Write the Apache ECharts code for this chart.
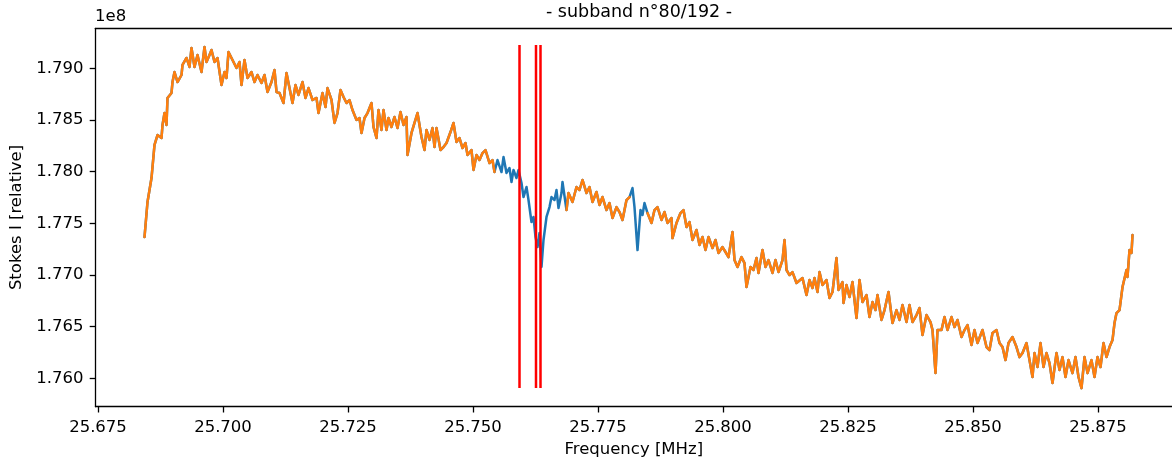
<!DOCTYPE html>
<html>
<head>
<meta charset="utf-8">
<script src="https://cdn.jsdelivr.net/npm/echarts@6/dist/echarts.min.js"></script>
<style>
html,body{margin:0;padding:0;background:#fff;}
#chart{width:1172px;height:459px;}
</style>
</head>
<body>
<div id="chart"></div>
<script>
// Frequency channels [MHz]
const freqs = [
25.6843,25.6849,25.6857,25.6863,25.6869,25.6877,25.6879,25.6883,25.6887,25.6889,
25.6897,25.6899,25.6903,25.6909,25.6917,25.6919,25.6927,25.6933,25.6937,25.6943,
25.6949,25.6957,25.6963,25.6967,25.6973,25.6977,25.6983,25.6989,25.6997,25.7003,
25.7007,25.7011,25.7019,25.7027,25.7033,25.7037,25.7043,25.7049,25.7057,25.7063,
25.7069,25.7077,25.7083,25.7089,25.7097,25.7103,25.7107,25.7113,25.7121,25.7127,
25.7133,25.7139,25.7145,25.7151,25.7159,25.7165,25.7171,25.7179,25.7187,25.7191,
25.7199,25.7205,25.7209,25.7217,25.7223,25.7229,25.7235,25.7241,25.7247,25.7253,
25.7259,25.7267,25.7273,25.7277,25.7283,25.7289,25.7297,25.7301,25.7307,25.7311,
25.7317,25.7321,25.7327,25.7331,25.7337,25.7343,25.7349,25.7355,25.7361,25.7367,
25.7369,25.7377,25.7383,25.7389,25.7397,25.7403,25.7407,25.7413,25.7419,25.7423,
25.7427,25.7435,25.7441,25.7447,25.7455,25.7461,25.7467,25.7473,25.7479,25.7485,
25.7489,25.7497,25.7501,25.7507,25.7513,25.7519,25.7525,25.7533,25.7539,25.7543,
25.7549,25.7557,25.7561,25.7567,25.7573,25.7577,25.7581,25.7587,25.7591,25.7597,
25.7601,25.7607,25.7611,25.7617,25.7621,25.7625,25.7629,25.7633,25.7637,25.7641,
25.7647,25.7653,25.7657,25.7663,25.7667,25.7671,25.7677,25.7679,25.7687,25.7691,
25.7699,25.7707,25.7713,25.7719,25.7727,25.7733,25.7739,25.7747,25.7753,25.7759,
25.7767,25.7773,25.7779,25.7787,25.7793,25.7799,25.7807,25.7813,25.7819,25.7823,
25.7829,25.7835,25.7839,25.7843,25.7849,25.7857,25.7863,25.7869,25.7877,25.7883,
25.7889,25.7897,25.7899,25.7907,25.7915,25.7921,25.7927,25.7933,25.7939,25.7947,
25.7953,25.7959,25.7965,25.7971,25.7979,25.7985,25.7991,25.7999,25.8005,25.8011,
25.8019,25.8023,25.8029,25.8037,25.8043,25.8047,25.8055,25.8061,25.8067,25.8071,
25.8079,25.8085,25.8091,25.8099,25.8105,25.8111,25.8119,25.8123,25.8127,25.8133,
25.8139,25.8147,25.8159,25.8167,25.8173,25.8179,25.8183,25.8189,25.8193,25.8199,
25.8207,25.8213,25.8219,25.8227,25.8231,25.8239,25.8241,25.8247,25.8253,25.8259,
25.8267,25.8273,25.8279,25.8287,25.8293,25.8299,25.8305,25.8309,25.8317,25.8323,
25.8331,25.8339,25.8347,25.8353,25.8359,25.8367,25.8373,25.8379,25.8387,25.8393,
25.8399,25.8407,25.8415,25.8419,25.8425,25.8429,25.8437,25.8443,25.8449,25.8457,
25.8463,25.8469,25.8477,25.8483,25.8489,25.8497,25.8503,25.8509,25.8519,25.8527,
25.8533,25.8539,25.8547,25.8553,25.8559,25.8565,25.8571,25.8579,25.8587,25.8593,
25.8599,25.8607,25.8613,25.8619,25.8623,25.8629,25.8635,25.8641,25.8647,25.8653,
25.8659,25.8667,25.8673,25.8679,25.8685,25.8691,25.8699,25.8705,25.8711,25.8717,
25.8723,25.8729,25.8737,25.8743,25.8749,25.8755,25.8761,25.8767,25.8773,25.8779,
25.8783,25.8787,25.8793,25.8799,25.8807,25.8809,25.8813,25.8817,25.8819
];
// Stokes I [relative], in units of 1e8
const stokes = [
1.77367,1.77706,1.77938,1.78258,1.78354,1.78325,1.78451,1.78567,1.78451,1.78713,
1.78761,1.78867,1.78964,1.78867,1.78935,1.79032,1.79100,1.79013,1.79197,1.79013,
1.79129,1.78964,1.79206,1.79061,1.79129,1.79177,1.79061,1.79100,1.78838,1.78964,
1.78906,1.79158,1.79080,1.79003,1.79061,1.78838,1.79080,1.78906,1.78964,1.78867,
1.78935,1.78858,1.78935,1.78771,1.78867,1.78984,1.78771,1.78761,1.78664,1.78955,
1.78809,1.78664,1.78838,1.78742,1.78867,1.78713,1.78809,1.78693,1.78713,1.78567,
1.78761,1.78625,1.78809,1.78693,1.78471,1.78567,1.78790,1.78722,1.78664,1.78693,
1.78596,1.78500,1.78519,1.78374,1.78519,1.78567,1.78664,1.78432,1.78325,1.78596,
1.78403,1.78596,1.78403,1.78519,1.78432,1.78529,1.78422,1.78577,1.78451,1.78529,
1.78161,1.78374,1.78471,1.78567,1.78335,1.78209,1.78403,1.78306,1.78422,1.78238,
1.78422,1.78209,1.78238,1.78277,1.78383,1.78471,1.78287,1.78325,1.78228,1.78277,
1.78161,1.78209,1.78016,1.78161,1.78112,1.78180,1.78209,1.78083,1.78112,1.77996,
1.78112,1.77996,1.78141,1.77987,1.78035,1.77899,1.78016,1.77938,1.78016,1.77890,
1.77754,1.77851,1.77725,1.77512,1.77561,1.77367,1.77270,1.77406,1.77077,1.77338,
1.77561,1.77657,1.77754,1.77725,1.77822,1.77648,1.77793,1.77900,1.77628,1.77793,
1.77706,1.77851,1.77822,1.77919,1.77793,1.77851,1.77706,1.77803,1.77677,1.77754,
1.77628,1.77696,1.77551,1.77657,1.77609,1.77532,1.77725,1.77754,1.77841,1.77657,
1.77241,1.77628,1.77580,1.77696,1.77599,1.77503,1.77628,1.77657,1.77532,1.77609,
1.77503,1.77551,1.77357,1.77503,1.77599,1.77628,1.77464,1.77512,1.77338,1.77435,
1.77290,1.77367,1.77241,1.77367,1.77260,1.77338,1.77212,1.77270,1.77222,1.77173,
1.77415,1.77144,1.77077,1.77173,1.77115,1.76883,1.77077,1.77048,1.77164,1.77019,
1.77241,1.77077,1.77144,1.77019,1.77144,1.77028,1.77144,1.77338,1.77048,1.76999,
1.77028,1.76922,1.76970,1.76806,1.76951,1.76873,1.76970,1.76835,1.77028,1.76902,
1.76951,1.76777,1.76835,1.77164,1.76854,1.76931,1.76728,1.76902,1.76786,1.76931,
1.76583,1.76951,1.76738,1.76806,1.76593,1.76738,1.76660,1.76806,1.76564,1.76660,
1.76835,1.76534,1.76660,1.76564,1.76709,1.76544,1.76709,1.76544,1.76612,1.76680,
1.76418,1.76612,1.76544,1.76467,1.76050,1.76467,1.76467,1.76593,1.76467,1.76593,
1.76496,1.76564,1.76399,1.76467,1.76515,1.76322,1.76467,1.76341,1.76467,1.76302,
1.76273,1.76438,1.76467,1.76341,1.76302,1.76176,1.76341,1.76399,1.76302,1.76205,
1.76244,1.76341,1.76176,1.76012,1.76244,1.76109,1.76341,1.76109,1.76244,1.76147,
1.75954,1.76244,1.76080,1.76205,1.76012,1.76176,1.76050,1.76205,1.76012,1.75905,
1.76205,1.76050,1.76176,1.76012,1.76205,1.76109,1.76341,1.76205,1.76302,1.76370,
1.76534,1.76631,1.76660,1.76883,1.77048,1.76980,1.77241,1.77212,1.77386
];
// Frequency ranges flagged (shown only in blue)
const flaggedRanges = [[25.7546, 25.7684], [25.7817, 25.7845]];
// Red vertical markers
const redLineFreqs = [25.7593, 25.7626, 25.7635];
const redLineSpan = [1.75906, 1.79225];
// Axis ticks
const xTicks = [25.675, 25.700, 25.725, 25.750, 25.775, 25.800, 25.825, 25.850, 25.875];
const yTicks = [1.760, 1.765, 1.770, 1.775, 1.780, 1.785, 1.790];
// Visible part of the axes (the right spine lies beyond the picture edge)
const xRange = [25.6745, 25.8898];
const yRange = [1.75725, 1.79387];
const titleText = '- subband n°80/192 -';
const xName = 'Frequency [MHz]';
const yName = 'Stokes I [relative]';
const yScaleText = '1e8';

const FONT = 'DejaVu Sans';
const fullData = freqs.map((f, i) => [f, stokes[i]]);
const isFlagged = f => flaggedRanges.some(r => f >= r[0] && f <= r[1]);
const orangeData = freqs.map((f, i) => [f, isFlagged(f) ? '-' : stokes[i]]);

const series = [
  {type: 'line', data: fullData, showSymbol: false, symbol: 'none', sampling: null,
   lineStyle: {color: '#1f77b4', width: 2.5, join: 'round', cap: 'round'}, z: 2, silent: true},
  {type: 'line', data: orangeData, showSymbol: false, symbol: 'none', connectNulls: false,
   lineStyle: {color: '#ff7f0e', width: 2.5, join: 'round', cap: 'round'}, z: 3, silent: true}
];
redLineFreqs.forEach(f => {
  series.push({type: 'line', data: [[f, redLineSpan[0]], [f, redLineSpan[1]]], showSymbol: false, symbol: 'none',
    lineStyle: {color: '#ff0000', width: 2.5}, z: 4, silent: true});
});

const axisLineStyle = {color: '#000', width: 1.3};
const chart = echarts.init(document.getElementById('chart'), null, {renderer: 'canvas'});
chart.setOption({
  animation: false,
  backgroundColor: '#fff',
  grid: {left: 95.5, top: 28.3, right: 0, bottom: 52.3, containLabel: false, outerBoundsMode: 'none'},
  xAxis: [{
    type: 'value', min: xRange[0], max: xRange[1], position: 'bottom',
    name: xName, nameLocation: 'middle', nameGap: 34,
    nameTextStyle: {fontFamily: FONT, fontSize: 16.5, color: '#000'},
    axisLine: {show: true, onZero: false, lineStyle: axisLineStyle},
    axisTick: {show: true, length: 5.8, inside: false, customValues: xTicks, lineStyle: axisLineStyle},
    axisLabel: {customValues: xTicks, margin: 13, fontFamily: FONT, fontSize: 16.5, color: '#000',
      formatter: v => v.toFixed(3)},
    splitLine: {show: false}
  }, {
    type: 'value', min: xRange[0], max: xRange[1], position: 'top',
    axisLine: {show: true, onZero: false, lineStyle: axisLineStyle},
    axisTick: {show: false}, axisLabel: {show: false}, splitLine: {show: false}
  }],
  yAxis: {
    type: 'value', min: yRange[0], max: yRange[1],
    name: yName, nameLocation: 'middle', nameGap: 62, nameRotate: 90,
    nameTextStyle: {fontFamily: FONT, fontSize: 16.5, color: '#000'},
    axisLine: {show: true, onZero: false, lineStyle: axisLineStyle},
    axisTick: {show: true, length: 5.8, inside: false, customValues: yTicks, lineStyle: axisLineStyle},
    axisLabel: {customValues: yTicks, margin: 12, fontFamily: FONT, fontSize: 16.5, color: '#000',
      formatter: v => v.toFixed(3)},
    splitLine: {show: false}
  },
  graphic: [
    {type: 'text', left: 95, top: 8, style: {text: yScaleText, font: '16.5px "DejaVu Sans"', fill: '#000'}},
    {type: 'text', x: 639, y: 12.5, style: {text: titleText, font: '17.5px "DejaVu Sans"', fill: '#000', align: 'center', verticalAlign: 'middle'}}
  ],
  series: series
});
</script>
</body>
</html>
